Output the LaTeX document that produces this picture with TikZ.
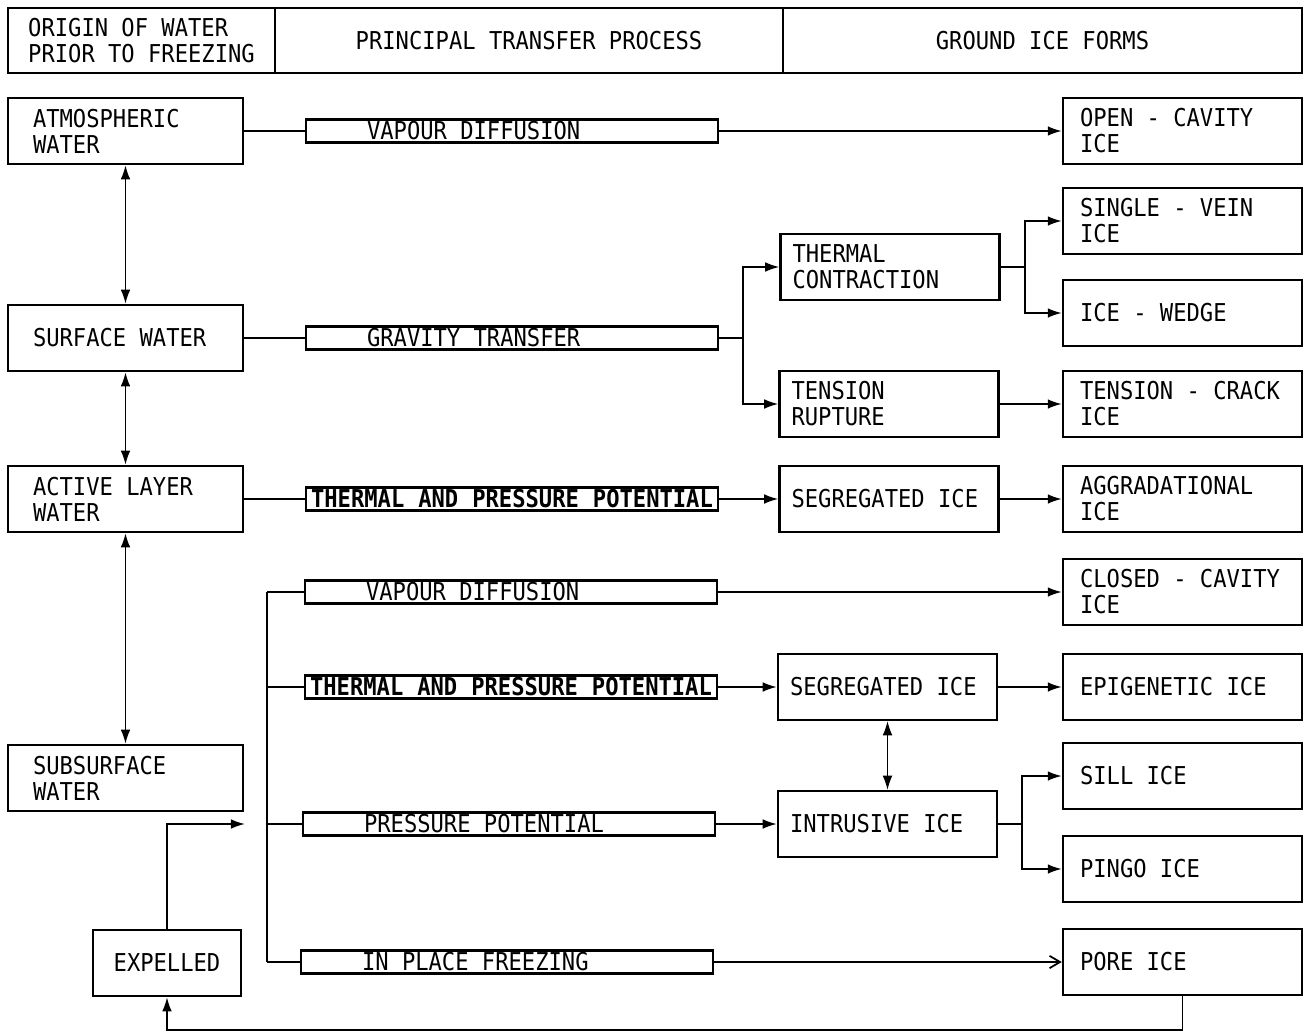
\documentclass[tikz,border=0pt]{standalone}
\usepackage{fontspec}
\newfontfamily\diagfont[FakeStretch=0.9]{DejaVu Sans Mono}
\usetikzlibrary{arrows.meta}

\begin{document}
\begin{tikzpicture}[x=0.02cm, y=-0.02cm,
  font=\diagfont\fontsize{14}{14.8}\selectfont,
  execute at begin node={\spaceskip=0pt\xspaceskip=0pt\relax},
  line width=1pt,
  >={Latex[length=8pt,width=5.5pt]},
  block/.style={draw, line width=1.4pt, minimum height=1.32cm, inner sep=0pt},
  origin/.style={block, minimum width=4.7cm, text width=3.7cm, align=left},
  middle/.style={block, minimum width=4.38cm, text width=3.9cm, align=left},
  form/.style={block, minimum width=4.78cm, text width=4.1cm, align=left},
  bar/.style={draw, line width=1.4pt, minimum width=8.24cm, minimum height=0.46cm, inner ysep=0pt, inner xsep=1.22cm, text width=5.8cm, align=left},
  tbar/.style={bar, inner xsep=0pt, text width=8.24cm, align=center, font=\diagfont\bfseries\fontsize{14}{14.8}\selectfont},
  head/.style={draw, line width=1.4pt, minimum height=1.3cm, inner sep=0pt}]

  \useasboundingbox (0,0) rectangle (1305,1034);

  % Header
  \node[head, minimum width=5.34cm, align=left] (H1) at (141.5,40.5) {ORIGIN OF WATER\\PRIOR TO FREEZING};
  \node[head, minimum width=10.16cm] (H2) at (529,40.5) {PRINCIPAL TRANSFER PROCESS};
  \node[head, minimum width=10.38cm] (H3) at (1042.5,40.5) {GROUND ICE FORMS};

  % Origin of water
  \node[origin] (atm) at (125.5,131) {ATMOSPHERIC\\WATER};
  \node[origin] (surf) at (125.5,338) {SURFACE WATER};
  \node[origin] (act) at (125.5,499) {ACTIVE LAYER\\WATER};
  \node[origin] (sub) at (125.5,778) {SUBSURFACE\\WATER};
  \node[block, minimum width=2.96cm] (exp) at (167,963) {EXPELLED};

  % Transfer processes
  \node[bar] (b1) at (512,131) {VAPOUR DIFFUSION};
  \node[bar] (b2) at (512,338) {GRAVITY TRANSFER};
  \node[tbar] (b3) at (512,499) {THERMAL AND PRESSURE POTENTIAL};
  \node[bar] (b4) at (511,592) {VAPOUR DIFFUSION};
  \node[tbar] (b5) at (511,687) {THERMAL AND PRESSURE POTENTIAL};
  \node[bar] (b6) at (509,824) {PRESSURE POTENTIAL};
  \node[bar] (b7) at (507,962) {IN PLACE FREEZING};

  % Middle column
  \node[middle] (tc) at (890,267) {THERMAL\\CONTRACTION};
  \node[middle] (tr) at (889,404) {TENSION\\RUPTURE};
  \node[middle] (seg1) at (889,499) {SEGREGATED ICE};
  \node[middle] (seg2) at (887.5,687) {SEGREGATED ICE};
  \node[middle] (intr) at (887.5,824) {INTRUSIVE ICE};

  % Ground ice forms
  \node[form] (open) at (1182.5,131) {OPEN - CAVITY\\ICE};
  \node[form] (single) at (1182.5,221) {SINGLE - VEIN\\ICE};
  \node[form] (wedge) at (1182.5,313) {ICE - WEDGE};
  \node[form] (crack) at (1182.5,404) {TENSION - CRACK\\ICE};
  \node[form] (aggr) at (1182.5,499) {AGGRADATIONAL\\ICE};
  \node[form] (closed) at (1182.5,592) {CLOSED - CAVITY\\ICE};
  \node[form] (epi) at (1182.5,687) {EPIGENETIC ICE};
  \node[form] (sill) at (1182.5,776) {SILL ICE};
  \node[form] (pingo) at (1182.5,869) {PINGO ICE};
  \node[form] (pore) at (1182.5,962) {PORE ICE};

  % Junction points
  \coordinate (j2) at (743,338);
  \coordinate (j3) at (1025,267);
  \coordinate (j6) at (1022,824);
  \coordinate (tk1) at (267,592);
  \coordinate (tk2) at (267,962);
  \coordinate (inlet) at (245,824);
  \coordinate (low) at (1182.5,1030);

  % Vertical exchanges between origins
  \draw[<->] (atm) -- (surf);
  \draw[<->] (surf) -- (act);
  \draw[<->] (act) -- (sub);

  % First row
  \draw (atm) -- (b1);
  \draw[->] (b1) -- (open);

  % Gravity transfer
  \draw (surf) -- (b2);
  \draw (b2) -- (j2);
  \draw[->] (j2) |- (tc.west);
  \draw[->] (j2) |- (tr.west);
  \draw (tc) -- (j3);
  \draw[->] (j3) |- (single.west);
  \draw[->] (j3) |- (wedge.west);
  \draw[->] (tr) -- (crack);

  % Active layer
  \draw (act) -- (b3);
  \draw[->] (b3) -- (seg1);
  \draw[->] (seg1) -- (aggr);

  % Subsurface trunk
  \draw (tk1) -- (tk2);
  \draw (tk1) -- (b4.west);
  \draw (b5.west -| tk1) -- (b5.west);
  \draw (b6.west -| tk1) -- (b6.west);
  \draw (tk2) -- (b7.west);

  % Subsurface forms
  \draw[->] (b4) -- (closed);
  \draw[->] (b5) -- (seg2);
  \draw[->] (seg2) -- (epi);
  \draw[<->, line width=0.6pt] (seg2) -- (intr);
  \draw[->] (b6) -- (intr);
  \draw (intr) -- (j6);
  \draw[->] (j6) |- (sill.west);
  \draw[->] (j6) |- (pingo.west);
  \draw[-{Straight Barb[length=6pt,width=7pt]}] (b7) -- (pore);

  % Expelled loop
  \draw[->] (pore.south) -- (low) -| (exp.south);
  \draw[->] (exp.north) |- (inlet);

\end{tikzpicture}
\end{document}
